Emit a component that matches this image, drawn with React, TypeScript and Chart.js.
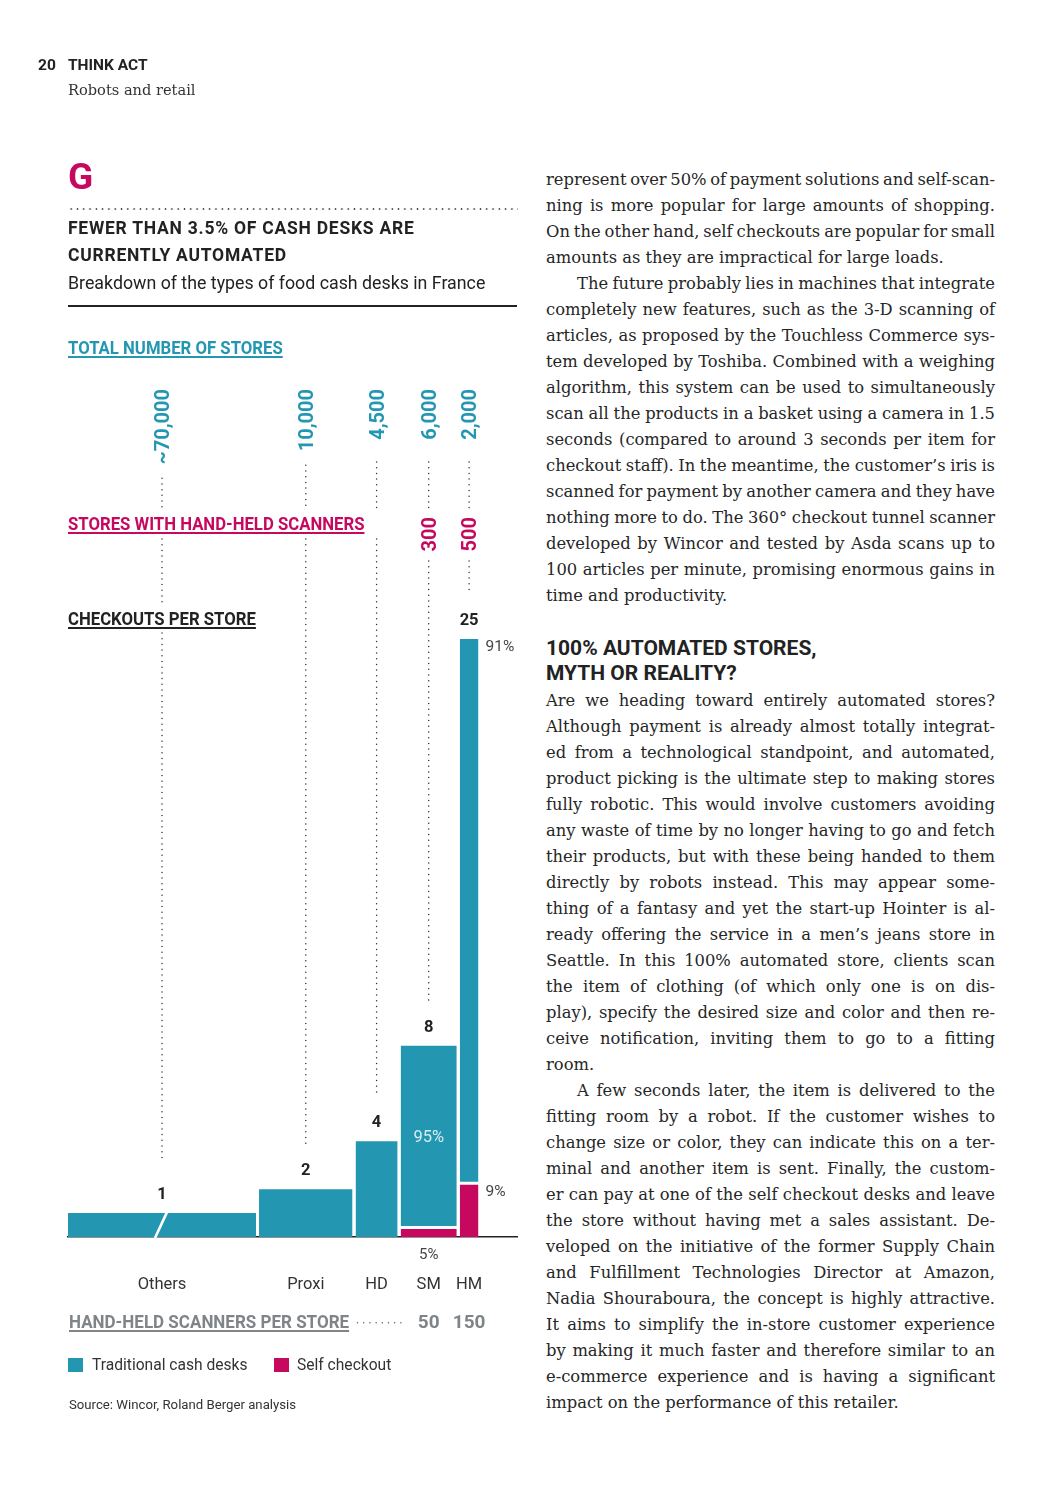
import React, { useEffect, useMemo, useRef } from 'react';
import { Chart, registerables } from 'chart.js';

Chart.register(...registerables);

// ---------------- data ----------------
const categories = ['Others', 'Proxi', 'HD', 'SM', 'HM'];
const storeCounts = [70000, 10000, 4500, 6000, 2000];
const storeCountLabels = ['~70,000', '10,000', '4,500', '6,000', '2,000'];
const checkoutsPerStore = [1, 2, 4, 8, 25];
const traditionalShare = [100, 100, 100, 95, 91];
const selfCheckoutShare = [0, 0, 0, 5, 9];
const storesWithScanners: (number | null)[] = [null, null, null, 300, 500];
const scannersPerStore: (number | null)[] = [null, null, null, 50, 150];
const OTHERS_DRAWN_COUNT = 20100; // "Others" bar is drawn broken / truncated

// ---------------- style ----------------
const TEAL = '#2397b1';
const MAGENTA = '#c7085f';
const INK = '#222222';
const GREY = '#7f8489';
const SANS = 'Roboto, "Noto Sans", sans-serif';
const SERIF = '"DejaVu Serif", "Liberation Serif", serif';
const GAP_X = 0.32; // thousand stores (gap between columns)
const GAP_Y = 0.125; // checkouts (gap between stacked segments)

// column spans (x in thousands of stores)
const spans: { x0: number; x1: number }[] = [];
{
  let cursor = 0;
  storeCounts.forEach((c, i) => {
    const w = Math.min(c, i === 0 ? OTHERS_DRAWN_COUNT : c) / 1000;
    spans.push({ x0: cursor, x1: cursor + w });
    cursor += w + GAP_X;
  });
}
const centers = spans.map((s) => (s.x0 + s.x1) / 2);

function buildDatasets() {
  const ds: any[] = [];
  categories.forEach((cat, i) => {
    const { x0, x1 } = spans[i];
    const total = checkoutsPerStore[i];
    const selfH = (total * selfCheckoutShare[i]) / 100;
    const tradLo = selfH > 0 ? selfH + GAP_Y / 2 : 0;
    ds.push({
      label: `${cat} traditional`,
      data: [
        { x: x0, y: total },
        { x: x1, y: total },
      ],
      fill: { value: tradLo },
      backgroundColor: TEAL,
      borderColor: 'rgba(0,0,0,0)',
      borderWidth: 0,
      pointRadius: 0,
      pointHitRadius: 0,
      tension: 0,
    });
    if (selfH > 0) {
      ds.push({
        label: `${cat} self checkout`,
        data: [
          { x: x0, y: selfH - GAP_Y / 2 },
          { x: x1, y: selfH - GAP_Y / 2 },
        ],
        fill: { value: 0 },
        backgroundColor: MAGENTA,
        borderColor: 'rgba(0,0,0,0)',
        borderWidth: 0,
        pointRadius: 0,
        pointHitRadius: 0,
        tension: 0,
      });
    }
  });
  return ds;
}

const annotations = {
  id: 'annotations',
  afterDatasetsDraw(chart: any) {
    const { ctx, scales } = chart;
    const x = scales.x;
    const y = scales.y;
    // break mark on the truncated "Others" column
    const cx = x.getPixelForValue(centers[0]);
    const base = y.getPixelForValue(0);
    const top = y.getPixelForValue(checkoutsPerStore[0]);
    ctx.save();
    ctx.strokeStyle = '#ffffff';
    ctx.lineWidth = 2.6;
    ctx.beginPath();
    ctx.moveTo(cx - 7, base + 1);
    ctx.lineTo(cx + 5, top - 1);
    ctx.stroke();
    ctx.restore();
  },
  afterDraw(chart: any) {
    const { ctx, scales } = chart;
    const x = scales.x;
    const y = scales.y;
    const base = y.getPixelForValue(0);
    const STORE_LABEL_TOP = 389;
    const SCAN_LABEL_TOP = 517;

    ctx.save();
    categories.forEach((_, i) => {
      const cx = x.getPixelForValue(centers[i]);
      const barTop = y.getPixelForValue(checkoutsPerStore[i]);

      // store count (rotated)
      ctx.font = `bold 20px ${SANS}`;
      const w = ctx.measureText(storeCountLabels[i]).width;
      ctx.save();
      ctx.translate(cx, STORE_LABEL_TOP);
      ctx.rotate(-Math.PI / 2);
      ctx.textAlign = 'right';
      ctx.textBaseline = 'alphabetic';
      ctx.fillStyle = TEAL;
      ctx.fillText(storeCountLabels[i], 0, 7.1);
      ctx.restore();

      // stores with hand-held scanners (rotated)
      const sc = storesWithScanners[i];
      if (sc != null) {
        ctx.save();
        ctx.translate(cx, SCAN_LABEL_TOP);
        ctx.rotate(-Math.PI / 2);
        ctx.textAlign = 'right';
        ctx.textBaseline = 'alphabetic';
        ctx.fillStyle = MAGENTA;
        ctx.font = `bold 20px ${SANS}`;
        ctx.fillText(String(sc), 0, 7.1);
        ctx.restore();
      }

      // dotted leader lines
      const valueBase = barTop - 14;
      const end = valueBase - (i === 0 ? 38 : 30);
      const start = Math.max(462, STORE_LABEL_TOP + w + 14);
      const segs: [number, number][] = [[start, 508]];
      const lowerStart = sc != null ? 561 : 539;
      if (cx < 262) {
        segs.push([lowerStart, 605], [633, end]);
      } else {
        segs.push([lowerStart, end]);
      }
      ctx.save();
      ctx.strokeStyle = '#333';
      ctx.lineWidth = 1.5;
      ctx.lineCap = 'round';
      ctx.setLineDash([0, 5.7]);
      segs.forEach(([a, b]) => {
        if (b <= a) return;
        ctx.beginPath();
        ctx.moveTo(cx, a);
        ctx.lineTo(cx, b);
        ctx.stroke();
      });
      ctx.restore();

      // checkouts per store value
      ctx.fillStyle = INK;
      ctx.font = `bold 16.5px ${SANS}`;
      ctx.textAlign = 'center';
      ctx.textBaseline = 'alphabetic';
      ctx.fillText(String(checkoutsPerStore[i]), cx, valueBase);

      // hand-held scanners per store
      const sp = scannersPerStore[i];
      if (sp != null) {
        ctx.fillStyle = GREY;
        ctx.font = `bold 19px ${SANS}`;
        ctx.fillText(String(sp), cx, 1328);
      }
    });

    // percentages
    const sm = 3;
    const hm = 4;
    {
      const cx = x.getPixelForValue(centers[sm]);
      const total = checkoutsPerStore[sm];
      const selfH = (total * selfCheckoutShare[sm]) / 100;
      const mid = (y.getPixelForValue(total) + y.getPixelForValue(selfH)) / 2;
      ctx.font = `16.5px ${SANS}`;
      ctx.textAlign = 'center';
      ctx.fillStyle = 'rgba(255,255,255,0.82)';
      ctx.fillText(`${traditionalShare[sm]}%`, cx, mid + 5.9);
      ctx.fillStyle = '#444';
      ctx.font = `15px ${SANS}`;
      ctx.fillText(`${selfCheckoutShare[sm]}%`, cx, base + 21.5);
    }
    {
      const right = x.getPixelForValue(spans[hm].x1);
      const total = checkoutsPerStore[hm];
      const selfH = (total * selfCheckoutShare[hm]) / 100;
      ctx.font = `15.5px ${SANS}`;
      ctx.textAlign = 'left';
      ctx.fillStyle = '#444';
      ctx.fillText(`${traditionalShare[hm]}%`, right + 7, y.getPixelForValue(total) + 12);
      ctx.fillText(`${selfCheckoutShare[hm]}%`, right + 7, y.getPixelForValue(selfH) + 13);
    }

    // leader dots for hand-held scanners row
    ctx.save();
    ctx.strokeStyle = '#555';
    ctx.lineWidth = 1.4;
    ctx.lineCap = 'round';
    ctx.setLineDash([0, 6.2]);
    ctx.beginPath();
    ctx.moveTo(357.5, 1322.7);
    ctx.lineTo(402, 1322.7);
    ctx.stroke();
    ctx.restore();

    ctx.restore();
  },
};

// ---------------- page text ----------------
const block1: string[][] = [
  [
    'represent over 50% of payment solutions and self-scan-',
    'ning is more popular for large amounts of shopping.',
    'On the other hand, self checkouts are popular for small',
    'amounts as they are impractical for large loads.',
  ],
  [
    'The future probably lies in machines that integrate',
    'completely new features, such as the 3-D scanning of',
    'articles, as proposed by the Touchless Commerce sys-',
    'tem developed by Toshiba. Combined with a weighing',
    'algorithm, this system can be used to simultaneously',
    'scan all the products in a basket using a camera in 1.5',
    'seconds (compared to around 3 seconds per item for',
    'checkout staff). In the meantime, the customer’s iris is',
    'scanned for payment by another camera and they have',
    'nothing more to do. The 360° checkout tunnel scanner',
    'developed by Wincor and tested by Asda scans up to',
    '100 articles per minute, promising enormous gains in',
    'time and productivity.',
  ],
];
const heading = ['100% AUTOMATED STORES,', 'MYTH OR REALITY?'];
const block2: string[][] = [
  [
    'Are we heading toward entirely automated stores?',
    'Although payment is already almost totally integrat-',
    'ed from a technological standpoint, and automated,',
    'product picking is the ultimate step to making stores',
    'fully robotic. This would involve customers avoiding',
    'any waste of time by no longer having to go and fetch',
    'their products, but with these being handed to them',
    'directly by robots instead. This may appear some-',
    'thing of a fantasy and yet the start-up Hointer is al-',
    'ready offering the service in a men’s jeans store in',
    'Seattle. In this 100% automated store, clients scan',
    'the item of clothing (of which only one is on dis-',
    'play), specify the desired size and color and then re-',
    'ceive notification, inviting them to go to a fitting',
    'room.',
  ],
  [
    'A few seconds later, the item is delivered to the',
    'fitting room by a robot. If the customer wishes to',
    'change size or color, they can indicate this on a ter-',
    'minal and another item is sent. Finally, the custom-',
    'er can pay at one of the self checkout desks and leave',
    'the store without having met a sales assistant. De-',
    'veloped on the initiative of the former Supply Chain',
    'and Fulfillment Technologies Director at Amazon,',
    'Nadia Shouraboura, the concept is highly attractive.',
    'It aims to simplify the in-store customer experience',
    'by making it much faster and therefore similar to an',
    'e-commerce experience and is having a significant',
    'impact on the performance of this retailer.',
  ],
];

const COL_X = 546;
const COL_W = 449;
const INDENT = 31;
const LINE_H = 26;

let measureCtx: CanvasRenderingContext2D | null = null;
function measure(text: string, font: string) {
  if (!measureCtx) measureCtx = document.createElement('canvas').getContext('2d');
  measureCtx!.font = font;
  return measureCtx!.measureText(text).width;
}

type Line = { text: string; avail: number; indent: boolean; last: boolean };
function layoutLines(paras: string[][]): Line[] {
  const out: Line[] = [];
  paras.forEach((lines, p) =>
    lines.forEach((text, l) => {
      const indent = l === 0 && p > 0;
      out.push({ text, indent, avail: COL_W - (indent ? INDENT : 0), last: l === lines.length - 1 });
    })
  );
  return out;
}

function useBodySize() {
  return useMemo(() => {
    const all = [...layoutLines(block1), ...layoutLines(block2)].filter((l) => !l.last);
    let ratio = Infinity;
    all.forEach((l) => {
      const w = measure(l.text, `16px "DejaVu Serif"`);
      ratio = Math.min(ratio, l.avail / w);
    });
    return Math.min(16.5, 16 * ratio * 1.025);
  }, []);
}

function Body(props: { paras: string[][]; base: number; size: number }) {
  const { size } = props;
  const baseOffset = (LINE_H - 1.164 * size) / 2 + 0.928 * size;
  const lines = layoutLines(props.paras);
  const font = `${size}px "DejaVu Serif"`;
  return (
    <div
      style={{
        position: 'absolute',
        left: COL_X,
        top: props.base - baseOffset,
        width: COL_W,
        fontFamily: SERIF,
        fontSize: size,
        lineHeight: `${LINE_H}px`,
        color: '#262626',
      }}
    >
      {lines.map((ln, k) => {
        let ws = 0;
        if (!ln.last) {
          const spaces = (ln.text.match(/ /g) || []).length;
          const w = measure(ln.text, font);
          ws = spaces > 0 ? (ln.avail - w) / spaces : 0;
        }
        return (
          <div
            key={k}
            style={{
              height: LINE_H,
              whiteSpace: 'nowrap',
              paddingLeft: ln.indent ? INDENT : 0,
              wordSpacing: `${ws}px`,
              textAlign: 'left',
            }}
          >
            {ln.text}
          </div>
        );
      })}
    </div>
  );
}

function T(props: {
  x: number;
  base: number;
  size: number;
  serif?: boolean;
  weight?: number | string;
  color?: string;
  style?: React.CSSProperties;
  children: React.ReactNode;
}) {
  const { x, base, size, serif, weight = 400, color = INK, style, children } = props;
  const top = base - (serif ? 0.846 : 0.8418) * size;
  return (
    <div
      style={{
        position: 'absolute',
        left: x,
        top,
        fontSize: size,
        lineHeight: `${size}px`,
        fontFamily: serif ? SERIF : SANS,
        fontWeight: weight as any,
        color,
        whiteSpace: 'nowrap',
        ...style,
      }}
    >
      {children}
    </div>
  );
}

function Cond(props: { children: React.ReactNode; color: string; k?: number }) {
  return (
    <span
      style={{
        display: 'inline-block',
        transform: `scaleX(${props.k ?? 0.915})`,
        transformOrigin: 'left',
        textDecoration: 'underline',
        textDecorationThickness: '1.5px',
        textUnderlineOffset: '2px',
        textDecorationColor: props.color,
        color: props.color,
      }}
    >
      {props.children}
    </span>
  );
}

export default function App() {
  const ref = useRef<HTMLCanvasElement>(null);
  const bodySize = useBodySize();

  useEffect(() => {
    const canvas = ref.current;
    if (!canvas) return;
    const chart = new Chart(canvas, {
      type: 'line',
      data: { datasets: buildDatasets() },
      options: {
        animation: false,
        responsive: false,
        maintainAspectRatio: false,
        events: [],
        layout: { padding: { left: 68, right: 23, top: 519.4, bottom: 48 } },
        plugins: {
          legend: { display: false },
          tooltip: { enabled: false },
        },
        scales: {
          x: {
            type: 'linear',
            min: 0,
            max: 48,
            z: 1,
            grid: { display: false, drawTicks: false },
            border: { display: true, color: INK, width: 1.5 },
            afterBuildTicks: (scale: any) => {
              scale.ticks = centers.map((v) => ({ value: v }));
            },
            afterFit: (scale: any) => {
              scale.height = 60;
            },
            ticks: {
              autoSkip: false,
              maxRotation: 0,
              padding: 38,
              color: '#333',
              font: { family: SANS, size: 16.5 },
              callback: (_v: any, i: number) => categories[i],
            },
          },
          y: { type: 'linear', min: 0, max: 30, display: false },
        },
      } as any,
      plugins: [annotations],
    });
    return () => chart.destroy();
  }, []);

  return (
    <div
      style={{
        position: 'absolute',
        left: 0,
        top: 0,
        width: 1063,
        height: 1506,
        background: '#ffffff',
        overflow: 'hidden',
        color: INK,
      }}
    >
      <canvas
        ref={ref}
        width={540}
        height={1345}
        style={{ position: 'absolute', left: 0, top: 0, width: 540, height: 1345 }}
      />

      {/* running header */}
      <T x={38} base={71} size={15.5} weight={700}>20</T>
      <T x={68} base={71} size={15.5} weight={700}>THINK ACT</T>
      <T x={68} base={95} size={14.6} serif color="#333">Robots and retail</T>

      {/* exhibit header */}
      <T x={68} base={189} size={37} weight={700} color={MAGENTA}>G</T>
      <div
        style={{
          position: 'absolute',
          left: 68,
          top: 208,
          width: 450,
          height: 2,
          backgroundImage: 'radial-gradient(circle, #444 0.75px, rgba(255,255,255,0) 1.1px)',
          backgroundSize: '6.3px 2px',
        }}
      />
      <T x={68} base={234.7} size={17.5} weight={700} style={{ letterSpacing: '0.75px' }}>
        FEWER THAN 3.5% OF CASH DESKS ARE
      </T>
      <T x={68} base={261.7} size={17.5} weight={700} style={{ letterSpacing: '0.75px' }}>
        CURRENTLY AUTOMATED
      </T>
      <T x={68} base={289.3} size={17.8}>Breakdown of the types of food cash desks in France</T>
      <div style={{ position: 'absolute', left: 68, top: 305, width: 449, height: 2, background: INK }} />

      {/* row headers */}
      <T x={68} base={354} size={18.3} weight={700}>
        <Cond color={TEAL}>TOTAL NUMBER OF STORES</Cond>
      </T>
      <T x={68} base={530} size={18.3} weight={700}>
        <Cond color={MAGENTA}>STORES WITH HAND-HELD SCANNERS</Cond>
      </T>
      <T x={68} base={625} size={18.3} weight={700}>
        <Cond color={INK}>CHECKOUTS PER STORE</Cond>
      </T>
      <T x={69} base={1328} size={18.3} weight={700}>
        <Cond color={GREY} k={0.93}>HAND-HELD SCANNERS PER STORE</Cond>
      </T>

      {/* legend */}
      <div style={{ position: 'absolute', left: 68, top: 1357.5, width: 15, height: 14.5, background: TEAL }} />
      <T x={92} base={1371} size={15.6} color="#333">Traditional cash desks</T>
      <div style={{ position: 'absolute', left: 274, top: 1357.5, width: 15, height: 14.5, background: MAGENTA }} />
      <T x={297} base={1371} size={15.6} color="#333">Self checkout</T>

      <T x={69} base={1409} size={13.2} color="#333">Source: Wincor, Roland Berger analysis</T>

      {/* right column */}
      <Body paras={block1} base={186} size={bodySize} />
      <div
        style={{
          position: 'absolute',
          left: COL_X,
          top: 636.3,
          fontFamily: SANS,
          fontWeight: 700,
          fontSize: 21,
          lineHeight: '25px',
          color: INK,
        }}
      >
        {heading.map((h) => (
          <div key={h}>{h}</div>
        ))}
      </div>
      <Body paras={block2} base={707} size={bodySize} />
    </div>
  );
}
